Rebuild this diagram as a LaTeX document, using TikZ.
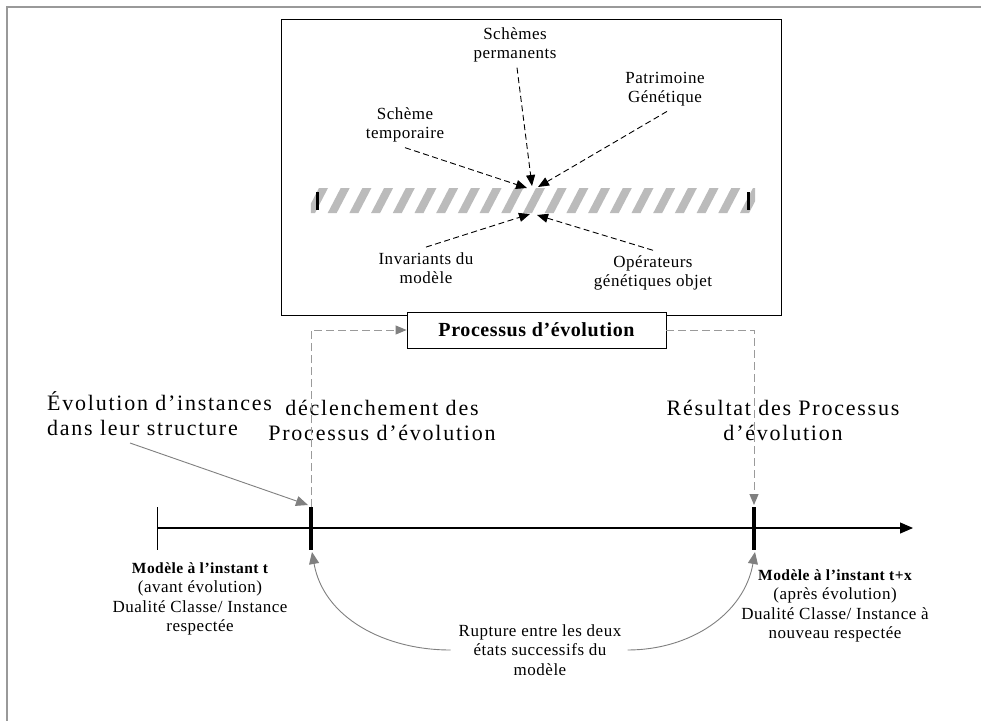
\documentclass[tikz,border=0pt]{standalone}
\usepackage{fontspec}
\setmainfont{Liberation Serif}
\newfontfamily\spaced[LetterSpace=3]{Liberation Serif}
\newfontfamily\widespaced[LetterSpace=8]{Liberation Serif}
\usetikzlibrary{arrows.meta}

\definecolor{framegray}{HTML}{999999}
\definecolor{linkgray}{HTML}{808080}
\definecolor{dashgray}{HTML}{9A9A9A}
\definecolor{hatchgray}{HTML}{BBBBBB}

\newcommand{\boldline}[1]{{\fontsize{15.5}{19}\selectfont\bfseries #1}}

\tikzset{
  smalltext/.style={font={\spaced\fontsize{17}{19.5}\selectfont}, align=center, inner sep=0},
  largetext/.style={font={\widespaced\fontsize{22}{25}\selectfont}, align=center, inner sep=0},
  blackdash/.style={draw=black, line width=0.9, dash pattern=on 6 off 3.5,
    -{Triangle[length=11,width=9]}},
  graydash/.style={draw=dashgray, line width=1, dash pattern=on 8 off 4,
    -{Triangle[length=11,width=9,color=linkgray]}},
  grayarrow/.style={draw=linkgray, line width=0.9, -{Triangle[length=12,width=10]}},
  boxline/.style={draw=black, line width=0.9, inner sep=0},
  tickmark/.style={line width=4},
}

\begin{document}
\begin{tikzpicture}[x=1pt,y=-1pt]
\useasboundingbox (0,0) rectangle (981,720);
\fill[white] (0,0) rectangle (981,720);
\draw[framegray, line width=2] (7,721) -- (7,7) -- (982,7);

% evolution process box and its inner band
\node[boxline, minimum width=500, minimum height=296] (evo) at (531,167) {};
\node[minimum width=444, minimum height=25, inner sep=0] (bar) at (533,200.5) {};
\begin{scope}
  \clip (bar.south west) rectangle (bar.north east);
  \foreach \k in {0,...,21}
    \fill[hatchgray] ({306+21.7*\k},213) -- ++(9,0) -- ++(13,-25) -- ++(-9,0) -- cycle;
\end{scope}
\draw[line width=3] (317,192) -- (317,210);
\draw[line width=3] (748,192) -- (748,210);

% labels around the band
\node[smalltext] (perm) at (515,45) {Schèmes\\permanents};
\node[smalltext] (patr) at (665,89) {Patrimoine\\Génétique};
\node[smalltext] (temp) at (405,125) {Schème\\temporaire};
\node[smalltext] (inv) at (426,268) {Invariants du\\modèle};
\node[smalltext] (ope) at (653,273) {Opérateurs\\génétiques objet};

\coordinate (hA) at (527,188);
\coordinate (hB) at (532,186);
\coordinate (hC) at (538,187);
\coordinate (hD) at (530,214);
\coordinate (hE) at (537,215);

\draw[blackdash] ([yshift=-5]temp.south) -- (hA);
\draw[blackdash] ([xshift=2,yshift=-5]perm.south) -- (hB);
\draw[blackdash] ([xshift=2,yshift=-5]patr.south) -- (hC);
\draw[blackdash] ([yshift=5]inv.north) -- (hD);
\draw[blackdash] ([yshift=5]ope.north) -- (hE);

\node[boxline, fill=white, minimum width=259, minimum height=36,
      font={\spaced\fontsize{20}{22}\selectfont\bfseries}] (proc) at (536.5,330)
  {Processus d’évolution};

% time axis
\coordinate (ax0) at (157,528);
\coordinate (ax1) at (913,528);
\coordinate (tkAtop) at (311,507);
\coordinate (tkAbot) at (311,550);
\coordinate (tkBtop) at (754,507);
\coordinate (tkBbot) at (754,550);
\draw[line width=1.1, -{Triangle[length=13,width=11]}] (ax0) -- (ax1);
\draw[line width=1] (157,507) -- (157,550);
\draw[tickmark] (tkAtop) -- (tkAbot);
\draw[tickmark] (tkBtop) -- (tkBbot);

% texts above the axis
\node[largetext, align=left, anchor=west] (inst) at (47,414) {Évolution d’instances\\dans leur structure};
\node[largetext] (decl) at (382,420) {déclenchement des\\Processus d’évolution};
\node[largetext] (res) at (783,420) {Résultat des Processus\\d’évolution};

\coordinate (instfoot) at (130,443);
\draw[grayarrow] (instfoot) -- ([xshift=-3,yshift=2]tkAtop);
\draw[graydash] (tkAtop) |- (proc.west);
\draw[graydash] (proc.east) -| ([yshift=2]tkBtop);

% states of the model
\node[smalltext] (before) at (200,599)
  {\boldline{Modèle à l’instant t}\\(avant évolution)\\Dualité Classe/ Instance\\respectée};
\node[smalltext] (after) at (835,606)
  {\boldline{Modèle à l’instant t+x}\\(après évolution)\\Dualité Classe/ Instance à\\nouveau respectée};

\node[smalltext] (rup) at (540,650) {Rupture entre les deux\\états successifs du\\modèle};
\draw[grayarrow] ([xshift=-8]rup.west) to[out=180, in=-80] ([xshift=1,yshift=-2]tkAbot);
\draw[grayarrow] ([xshift=6]rup.east) to[out=0, in=-100] ([xshift=1,yshift=-2]tkBbot);
\end{tikzpicture}
\end{document}
